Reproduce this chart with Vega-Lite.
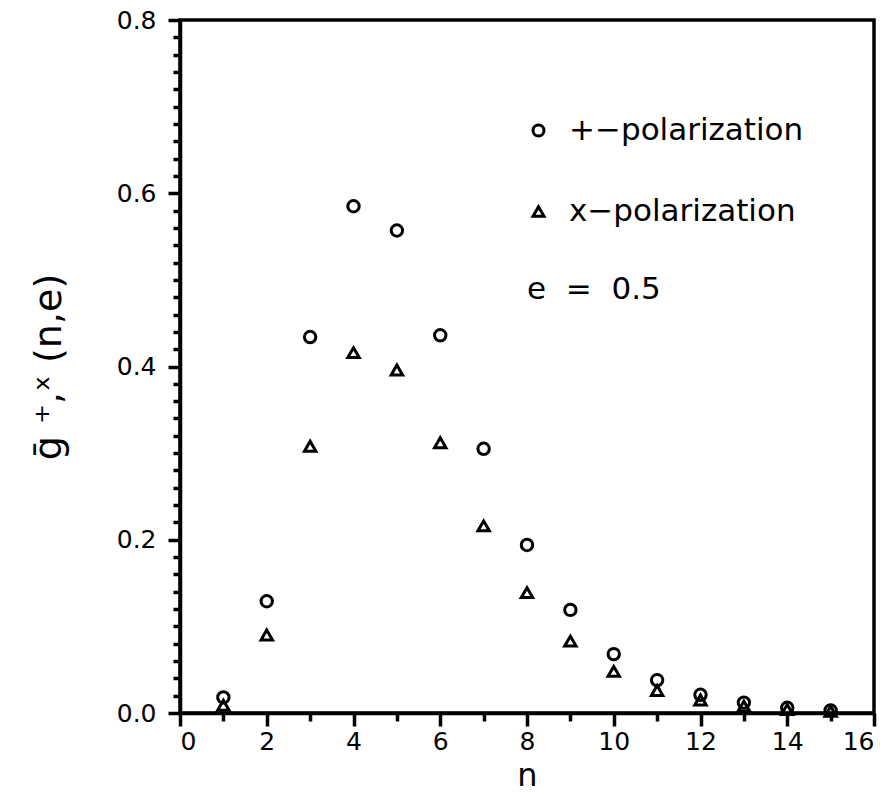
{
  "$schema": "https://vega.github.io/schema/vega-lite/v6.json",
  "width": 694,
  "height": 693,
  "autosize": {"type": "none"},
  "padding": {"left": 180, "top": 20, "right": 21, "bottom": 83},
  "background": "white",
  "config": {
    "view": {"stroke": "black", "strokeWidth": 3.5},
    "axis": {
      "domainColor": "black", "domainWidth": 3.5,
      "tickColor": "black", "tickWidth": 3.5,
      "labelColor": "black", "titleColor": "black",
      "grid": false,
      "labelFont": "DejaVu Sans", "titleFont": "DejaVu Sans",
      "titleFontWeight": "normal"
    }
  },
  "datasets": {
    "points": [
      {"n": 1, "g": 0.018, "series": "+−polarization"},
      {"n": 2, "g": 0.129, "series": "+−polarization"},
      {"n": 3, "g": 0.434, "series": "+−polarization"},
      {"n": 4, "g": 0.585, "series": "+−polarization"},
      {"n": 5, "g": 0.557, "series": "+−polarization"},
      {"n": 6, "g": 0.436, "series": "+−polarization"},
      {"n": 7, "g": 0.305, "series": "+−polarization"},
      {"n": 8, "g": 0.194, "series": "+−polarization"},
      {"n": 9, "g": 0.119, "series": "+−polarization"},
      {"n": 10, "g": 0.068, "series": "+−polarization"},
      {"n": 11, "g": 0.038, "series": "+−polarization"},
      {"n": 12, "g": 0.021, "series": "+−polarization"},
      {"n": 13, "g": 0.012, "series": "+−polarization"},
      {"n": 14, "g": 0.006, "series": "+−polarization"},
      {"n": 15, "g": 0.003, "series": "+−polarization"},
      {"n": 1, "g": 0.009, "series": "x−polarization"},
      {"n": 2, "g": 0.090, "series": "x−polarization"},
      {"n": 3, "g": 0.308, "series": "x−polarization"},
      {"n": 4, "g": 0.416, "series": "x−polarization"},
      {"n": 5, "g": 0.396, "series": "x−polarization"},
      {"n": 6, "g": 0.312, "series": "x−polarization"},
      {"n": 7, "g": 0.216, "series": "x−polarization"},
      {"n": 8, "g": 0.139, "series": "x−polarization"},
      {"n": 9, "g": 0.083, "series": "x−polarization"},
      {"n": 10, "g": 0.048, "series": "x−polarization"},
      {"n": 11, "g": 0.026, "series": "x−polarization"},
      {"n": 12, "g": 0.015, "series": "x−polarization"},
      {"n": 13, "g": 0.008, "series": "x−polarization"},
      {"n": 14, "g": 0.004, "series": "x−polarization"},
      {"n": 15, "g": 0.002, "series": "x−polarization"}
    ],
    "note": [
      {"n": 8.0, "g": 0.488, "label": "e\u00a0\u00a0=\u00a0\u00a00.5"}
    ]
  },
  "layer": [
    {
      "data": {"name": "points"},
      "mark": {"type": "point", "filled": false, "color": "black", "strokeWidth": 3, "size": 130, "opacity": 1},
      "encoding": {
        "x": {
          "field": "n", "type": "quantitative",
          "scale": {"domain": [0, 16], "nice": false, "zero": false},
          "axis": {
            "orient": "bottom",
            "values": [0, 2, 4, 6, 8, 10, 12, 14, 16],
            "tickSize": 13, "labelFontSize": 25, "labelPadding": 3,
            "title": "n", "titleFontSize": 32, "titlePadding": 6
          }
        },
        "y": {
          "field": "g", "type": "quantitative",
          "scale": {"domain": [0, 0.8], "nice": false, "zero": false},
          "axis": {
            "orient": "left",
            "values": [0, 0.2, 0.4, 0.6, 0.8], "format": ".1f",
            "tickSize": 12, "labelFontSize": 25, "labelPadding": 12,
            "title": "ḡ ⁺,ˣ  (n,e)", "titleFontSize": 38, "titlePadding": 48
          }
        },
        "shape": {
          "field": "series", "type": "nominal",
          "scale": {"domain": ["+−polarization", "x−polarization"], "range": ["circle", "triangle-up"]},
          "legend": {
            "orient": "none", "legendX": 343, "legendY": 95,
            "title": null, "labelFontSize": 31, "labelFont": "DejaVu Sans", "labelColor": "black",
            "labelLimit": 400,
            "symbolSize": 120, "symbolStrokeWidth": 3, "symbolStrokeColor": "black",
            "symbolFillColor": "transparent", "labelOffset": 15, "rowPadding": 49
          }
        }
      }
    },
    {
      "data": {"name": "note"},
      "mark": {"type": "text", "align": "left", "baseline": "middle", "fontSize": 31, "font": "DejaVu Sans", "color": "black"},
      "encoding": {
        "x": {
          "field": "n", "type": "quantitative",
          "axis": {
            "orient": "bottom",
            "values": [1, 3, 5, 7, 9, 11, 13, 15],
            "tickSize": 8, "labels": false, "domain": false, "title": null
          }
        },
        "y": {
          "field": "g", "type": "quantitative",
          "axis": {
            "orient": "left",
            "values": [0.02, 0.04, 0.06, 0.08, 0.1, 0.12, 0.14, 0.16, 0.18, 0.22, 0.24, 0.26, 0.28, 0.3, 0.32, 0.34, 0.36, 0.38, 0.42, 0.44, 0.46, 0.48, 0.5, 0.52, 0.54, 0.56, 0.58, 0.62, 0.64, 0.66, 0.68, 0.7, 0.72, 0.74, 0.76, 0.78],
            "tickSize": 7, "labels": false, "domain": false, "title": null
          }
        },
        "text": {"field": "label"}
      }
    }
  ],
  "resolve": {"axis": {"x": "independent", "y": "independent"}}
}
